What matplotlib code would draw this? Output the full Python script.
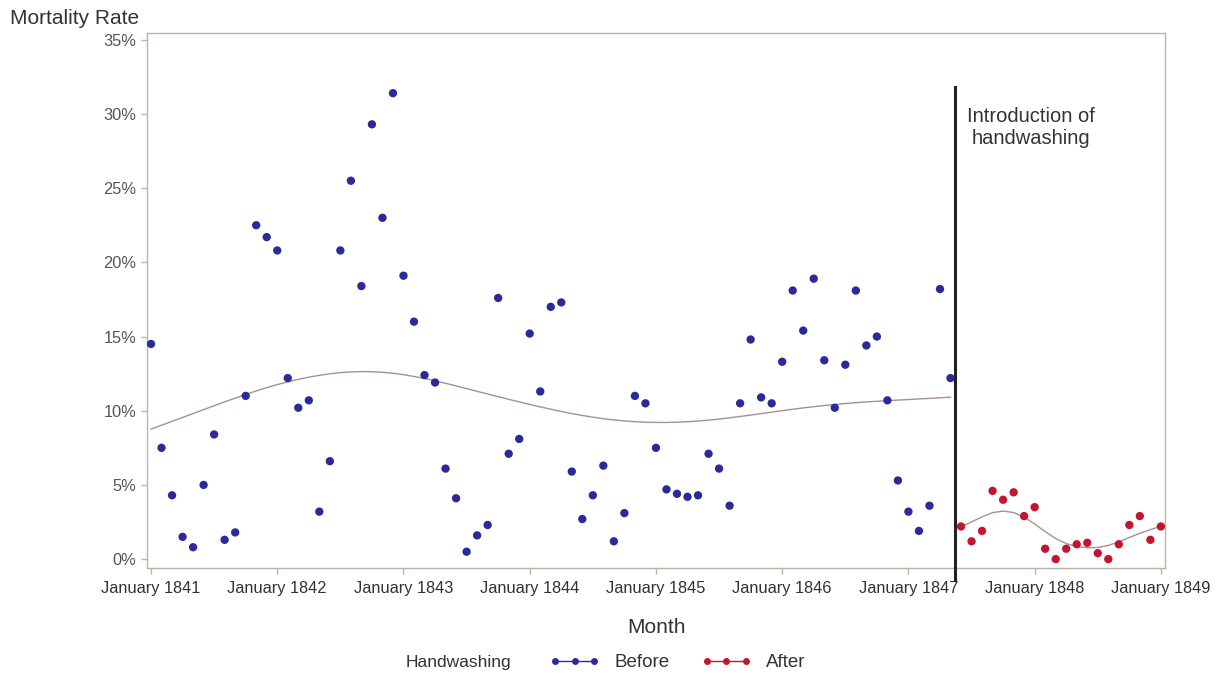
import numpy as np
import matplotlib
matplotlib.use("Agg")
import matplotlib.pyplot as plt
from matplotlib.lines import Line2D

# Monthly mortality rate (%), month index 0 = January 1841
before_rate = [
    14.5, 7.5, 4.3, 1.5, 0.8, 5.0, 8.4, 1.3, 1.8, 11.0, 22.5, 21.7,
    20.8, 12.2, 10.2, 10.7, 3.2, 6.6, 20.8, 25.5, 18.4, 29.3, 23.0, 31.4,
    19.1, 16.0, 12.4, 11.9, 6.1, 4.1, 0.5, 1.6, 2.3, 17.6, 7.1, 8.1,
    15.2, 11.3, 17.0, 17.3, 5.9, 2.7, 4.3, 6.3, 1.2, 3.1, 11.0, 10.5,
    7.5, 4.7, 4.4, 4.2, 4.3, 7.1, 6.1, 3.6, 10.5, 14.8, 10.9, 10.5,
    13.3, 18.1, 15.4, 18.9, 13.4, 10.2, 13.1, 18.1, 14.4, 15.0, 10.7, 5.3,
    3.2, 1.9, 3.6, 18.2, 12.2,
]
after_rate = [
    2.2, 1.2, 1.9, 4.6, 4.0, 4.5, 2.9, 3.5, 0.7, 0.0, 0.7, 1.0,
    1.1, 0.4, 0.0, 1.0, 2.3, 2.9, 1.3, 2.2,
]
before_month = np.arange(len(before_rate))
after_month = np.arange(len(after_rate)) + len(before_rate)

year_ticks = np.arange(0, 97, 12)
year_labels = [f"January {1841 + i}" for i in range(len(year_ticks))]
handwashing_month = 76.4

BLUE = "#2b2a9a"
RED = "#c3152e"
FIT = "#a89090"
FRAME = "#bfb1a8"
TXT = "#333333"

plt.rcParams["font.family"] = ["Liberation Sans", "DejaVu Sans"]


def whittaker(y, lam):
    # penalized least squares smoother, second-order differences
    y = np.asarray(y, float)
    n = len(y)
    d = np.diff(np.eye(n), 2, axis=0)
    return np.linalg.solve(np.eye(n) + lam * d.T @ d, y)


fig = plt.figure(figsize=(12.2, 6.75), dpi=100)
ax = fig.add_axes([0.1205, 0.1585, 0.8345, 0.7925])

ax.scatter(before_month, before_rate, s=36, color=BLUE, edgecolors="none", zorder=3)
ax.scatter(after_month, after_rate, s=36, color=RED, edgecolors="none", zorder=3)

ax.plot(before_month, whittaker(before_rate, 1.3e4), color=FIT, lw=1.0, zorder=2)
ax.plot(after_month, whittaker(after_rate, 20), color=FIT, lw=1.0, zorder=2)

# handwashing reference line (runs a little past the axis)
ax.plot([handwashing_month, handwashing_month], [-1.4, 31.8], color="#222222",
        lw=2.2, clip_on=False, zorder=4)
ax.text(handwashing_month + 7.25, 29.1, "Introduction of\nhandwashing",
        ha="center", va="center", fontsize=14.5, color=TXT, linespacing=1.2)

ax.set_xlim(-0.38, 96.4)
ax.set_ylim(-0.6, 35.45)
ax.set_xticks(year_ticks)
ax.set_xticklabels(year_labels, fontsize=11.8, color=TXT)
ax.set_yticks(np.arange(0, 36, 5))
ax.set_yticklabels([f"{v}%" for v in range(0, 36, 5)], fontsize=11.8, color="#555555")
ax.tick_params(length=4, color=FRAME, width=1)
ax.tick_params(axis="x", pad=5)
for s in ax.spines.values():
    s.set_color(FRAME)
    s.set_linewidth(1.0)

fig.text(0.008, 0.973, "Mortality Rate", fontsize=15, color=TXT, ha="left", va="center")
fig.text(0.538, 0.070, "Month", fontsize=15, color=TXT, ha="center", va="center")

fig.text(0.376, 0.018, "Handwashing", fontsize=12.5, color=TXT, ha="center", va="center")
handles = [
    Line2D([], [], color=BLUE, marker="o", ms=5, lw=1.0, mec="none"),
    Line2D([], [], color=RED, marker="o", ms=5, lw=1.0, mec="none"),
]
fig.legend(handles, ["Before", "After"], loc="center", bbox_to_anchor=(0.5555, 0.018),
           ncol=2, frameon=False, numpoints=3, handlelength=2.66, columnspacing=1.7,
           handletextpad=0.8, fontsize=13.5, labelcolor=TXT)

fig.savefig("out.png", dpi=100, facecolor="white")
